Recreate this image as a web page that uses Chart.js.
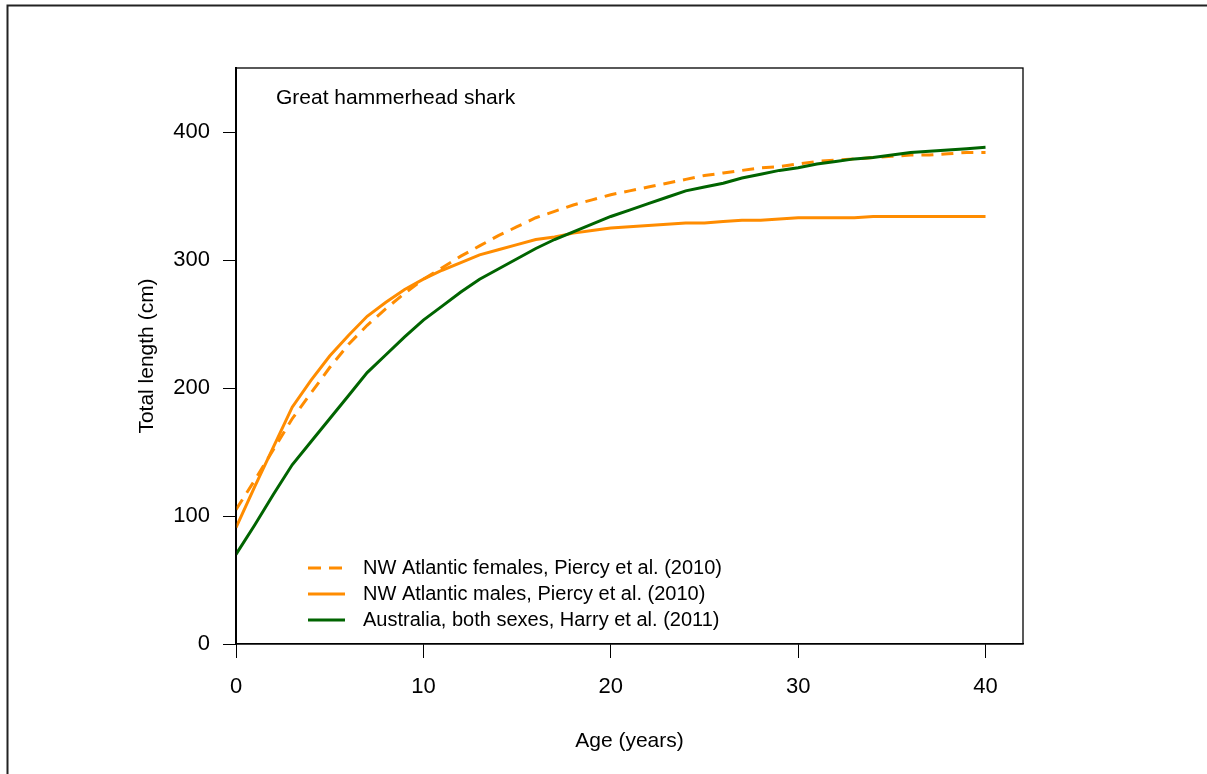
<!DOCTYPE html>
<html>
<head>
<meta charset="utf-8">
<script src="https://cdn.jsdelivr.net/npm/chart.js@4"></script>
<style>
  html, body { margin: 0; padding: 0; background: #fff; }
  canvas { display: block; }
</style>
</head>
<body>
<canvas id="chart" width="1207" height="774"></canvas>
<script>
// Edad (años) y longitud total (cm)
const ages = [0,1,2,3,4,5,6,7,8,9,10,11,12,13,14,15,16,17,18,19,20,
    21,22,23,24,25,26,27,28,29,30,31,32,33,34,35,36,37,38,39,40];

const females = [105,128,152,176,196,216,234,249,262,274,285,294,303,311,319,326,333,338,343,347,351,
    354,357,360,363,366,368,370,372,373,375,377,378,379,380,381,382,382,383,384,384];

const males = [91,123,154,185,206,225,241,256,267,277,285,292,298,304,308,312,316,318,321,323,325,
    326,327,328,329,329,330,331,331,332,333,333,333,333,334,334,334,334,334,334,334];

const australia = [70,93,117,140,158,176,194,212,226,240,253,264,275,285,293,301,309,316,322,328,334,
    339,344,349,354,357,360,364,367,370,372,375,377,379,380,382,384,385,386,387,388];

const seriesNames = [
    "NW Atlantic females, Piercy et al. (2010)",
    "NW Atlantic males, Piercy et al. (2010)",
    "Australia, both sexes, Harry et al. (2011)",
];

const xTicks = [0, 10, 20, 30, 40];
const yTicks = [0, 100, 200, 300, 400];

const chartTitle = "Great hammerhead shark";
const xTitle = "Age (years)";
const yTitle = "Total length (cm)";

const ORANGE = "#ff8c00";
const GREEN = "#006400";
const FONT = "'Liberation Sans', Arial, Helvetica, sans-serif";

const toPoints = (vals) => vals.map((v, i) => ({ x: ages[i], y: v }));

const legendItems = [
    { label: seriesNames[0], color: ORANGE, dash: [13, 8] },
    { label: seriesNames[1], color: ORANGE, dash: [] },
    { label: seriesNames[2], color: GREEN, dash: [] },
];

// Marco, caja del gráfico, título interno y leyenda
const decor = {
    id: "decor",
    beforeDraw(chart) {
        const ctx = chart.ctx;
        ctx.save();
        ctx.fillStyle = "#fff";
        ctx.fillRect(0, 0, chart.width, chart.height);
        ctx.strokeStyle = "#222";
        ctx.lineWidth = 2;
        ctx.beginPath();
        ctx.moveTo(7.5, chart.height + 5);
        ctx.lineTo(7.5, 5.5);
        ctx.lineTo(chart.width + 5, 5.5);
        ctx.stroke();
        ctx.restore();
    },
    afterDatasetsDraw(chart) {
        const ctx = chart.ctx;
        const a = chart.chartArea;
        ctx.save();
        ctx.strokeStyle = "#000";
        ctx.lineWidth = 1.3;
        ctx.strokeRect(a.left, a.top, a.right - a.left, a.bottom - a.top);

        ctx.fillStyle = "#000";
        ctx.textBaseline = "middle";
        ctx.textAlign = "left";
        ctx.font = "21px " + FONT;
        ctx.fillText(chartTitle, 276, 98);

        ctx.font = "20px " + FONT;
        const rowY = [568, 594, 620];
        legendItems.forEach((item, i) => {
            ctx.strokeStyle = item.color;
            ctx.lineWidth = 3;
            ctx.setLineDash(item.dash);
            ctx.beginPath();
            ctx.moveTo(308, rowY[i]);
            ctx.lineTo(345, rowY[i]);
            ctx.stroke();
            ctx.setLineDash([]);
            ctx.fillText(item.label, 363, rowY[i]);
        });
        ctx.restore();
    },
};

const ctx = document.getElementById("chart").getContext("2d");
const myChart = new Chart(ctx, {
    type: "line",
    data: {
        datasets: [
            {
                label: seriesNames[0],
                data: toPoints(females),
                borderColor: ORANGE,
                borderWidth: 3,
                borderDash: [12, 8],
                pointRadius: 0,
                tension: 0,
                order: 3,
            },
            {
                label: seriesNames[1],
                data: toPoints(males),
                borderColor: ORANGE,
                borderWidth: 3,
                pointRadius: 0,
                tension: 0,
                order: 2,
            },
            {
                label: seriesNames[2],
                data: toPoints(australia),
                borderColor: GREEN,
                borderWidth: 3,
                pointRadius: 0,
                tension: 0,
                order: 1,
            },
        ],
    },
    options: {
        responsive: false,
        animation: false,
        layout: { padding: { left: 0, top: 68, right: 184, bottom: 0 } },
        plugins: {
            legend: { display: false },
            tooltip: { enabled: false },
        },
        scales: {
            x: {
                type: "linear",
                min: 0,
                max: 42,
                afterBuildTicks: (scale) => {
                    scale.ticks = xTicks.map((v) => ({ value: v }));
                },
                afterFit: (scale) => {
                    scale.height = 130;
                },
                grid: {
                    drawOnChartArea: false,
                    drawTicks: true,
                    tickLength: 14,
                    color: "#000",
                    tickColor: "#000",
                    tickWidth: 1,
                },
                border: { display: true, color: "#000", width: 1.3 },
                ticks: {
                    color: "#000",
                    padding: 15.6,
                    maxRotation: 0,
                    font: { family: FONT, size: 22 },
                },
                title: {
                    display: true,
                    text: xTitle,
                    color: "#000",
                    font: { family: FONT, size: 21 },
                    padding: { top: 0, bottom: 20.5 },
                },
            },
            y: {
                type: "linear",
                min: 0,
                max: 450,
                afterBuildTicks: (scale) => {
                    scale.ticks = yTicks.map((v) => ({ value: v }));
                },
                afterFit: (scale) => {
                    scale.width = 236;
                },
                grid: {
                    drawOnChartArea: false,
                    drawTicks: true,
                    tickLength: 13,
                    color: "#000",
                    tickColor: "#000",
                    tickWidth: 1,
                },
                border: { display: true, color: "#000", width: 2 },
                ticks: {
                    color: "#000",
                    padding: 13,
                    font: { family: FONT, size: 22 },
                },
                title: {
                    display: true,
                    text: yTitle,
                    color: "#000",
                    font: { family: FONT, size: 21 },
                    padding: { top: 135, bottom: 0 },
                },
            },
        },
    },
    plugins: [decor],
});
</script>
</body>
</html>
